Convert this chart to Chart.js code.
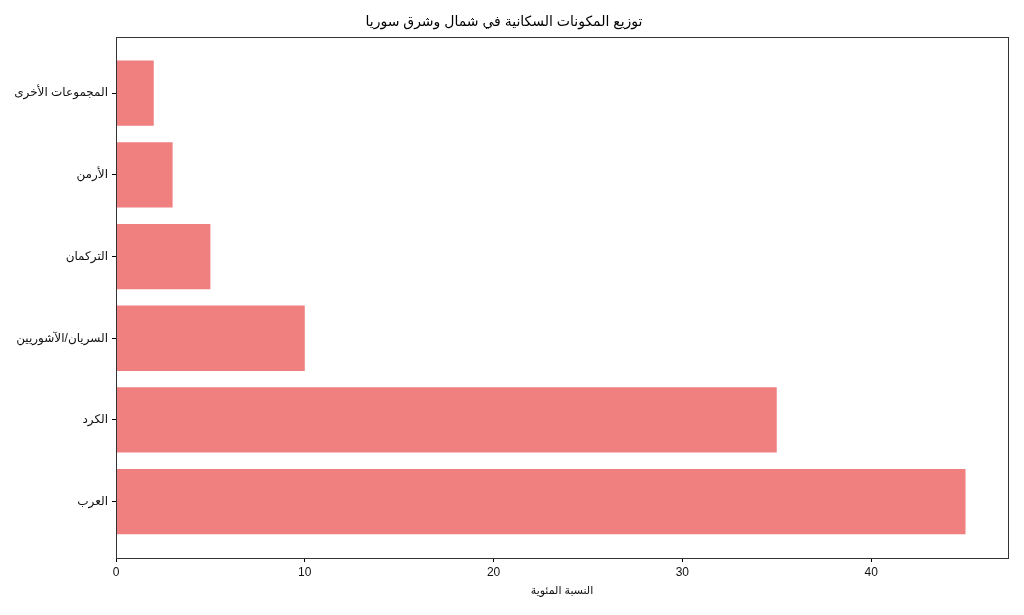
<!DOCTYPE html>
<html>
<head>
<meta charset="utf-8">
<script src="https://cdn.jsdelivr.net/npm/chart.js@4.4.0/dist/chart.umd.min.js"></script>
<style>
  html, body { margin: 0; padding: 0; background: #fff; }
  #wrap { width: 1024px; height: 615px; }
</style>
</head>
<body>
<div id="wrap"><canvas id="grafico" width="1024" height="615"></canvas></div>
<script>
// datos, de abajo hacia arriba
const categorias = ['العرب', 'الكرد', 'السريان/الآشوريين', 'التركمان', 'الأرمن', 'المجموعات الأخرى'];
const porcentajes = [45, 35, 10, 5, 3, 2];
const ticksX = [0, 10, 20, 30, 40];

const fuente = 'Arial, "Liberation Sans", "DejaVu Sans", sans-serif';

// marco completo alrededor del area del grafico
const marco = {
  id: 'marco',
  afterDraw(chart) {
    const a = chart.chartArea;
    const ctx = chart.ctx;
    ctx.save();
    ctx.strokeStyle = '#333';
    ctx.lineWidth = 1;
    ctx.strokeRect(Math.round(a.left) + 0.5, Math.round(a.top) + 0.5,
      Math.round(a.right - a.left), Math.round(a.bottom - a.top));
    ctx.restore();
  }
};

const ctx = document.getElementById('grafico').getContext('2d');
new Chart(ctx, {
  type: 'bar',
  data: {
    datasets: [{
      data: porcentajes.map((v, i) => ({ x: v, y: i })),
      backgroundColor: '#F08080',
      borderWidth: 0,
      categoryPercentage: 1,
      barPercentage: 0.8
    }]
  },
  plugins: [marco],
  options: {
    indexAxis: 'y',
    responsive: false,
    animation: false,
    layout: { padding: { left: 0, right: 16, top: 0, bottom: 0 } },
    plugins: {
      legend: { display: false },
      tooltip: { enabled: false },
      title: {
        display: true,
        text: 'توزيع المكونات السكانية في شمال وشرق سوريا',
        color: '#000',
        font: { family: fuente, size: 14, weight: 'normal' },
        padding: { top: 14, bottom: 6 }
      }
    },
    scales: {
      x: {
        type: 'linear',
        min: 0,
        max: 47.25,
        afterBuildTicks: axis => { axis.ticks = ticksX.map(v => ({ value: v })); },
        afterFit: axis => { axis.height = 57; },
        grid: { drawOnChartArea: false, drawTicks: true, tickLength: 4, color: '#000' },
        border: { display: false },
        ticks: { color: '#111', font: { family: fuente, size: 12 }, padding: 3, maxRotation: 0 },
        title: {
          display: true,
          text: 'النسبة المئوية',
          color: '#111',
          font: { family: fuente, size: 11 },
          padding: { top: 0, bottom: 17 }
        }
      },
      y: {
        type: 'linear',
        min: -0.69,
        max: 5.69,
        offset: false,
        afterBuildTicks: axis => { axis.ticks = categorias.map((_, i) => ({ value: i })); },
        afterFit: axis => { axis.width = 116; },
        grid: { offset: false, drawOnChartArea: false, drawTicks: true, tickLength: 4, color: '#000' },
        border: { display: false },
        ticks: {
          color: '#111',
          font: { family: fuente, size: 12 },
          padding: 4,
          callback: v => categorias[v]
        }
      }
    }
  }
});
</script>
</body>
</html>
